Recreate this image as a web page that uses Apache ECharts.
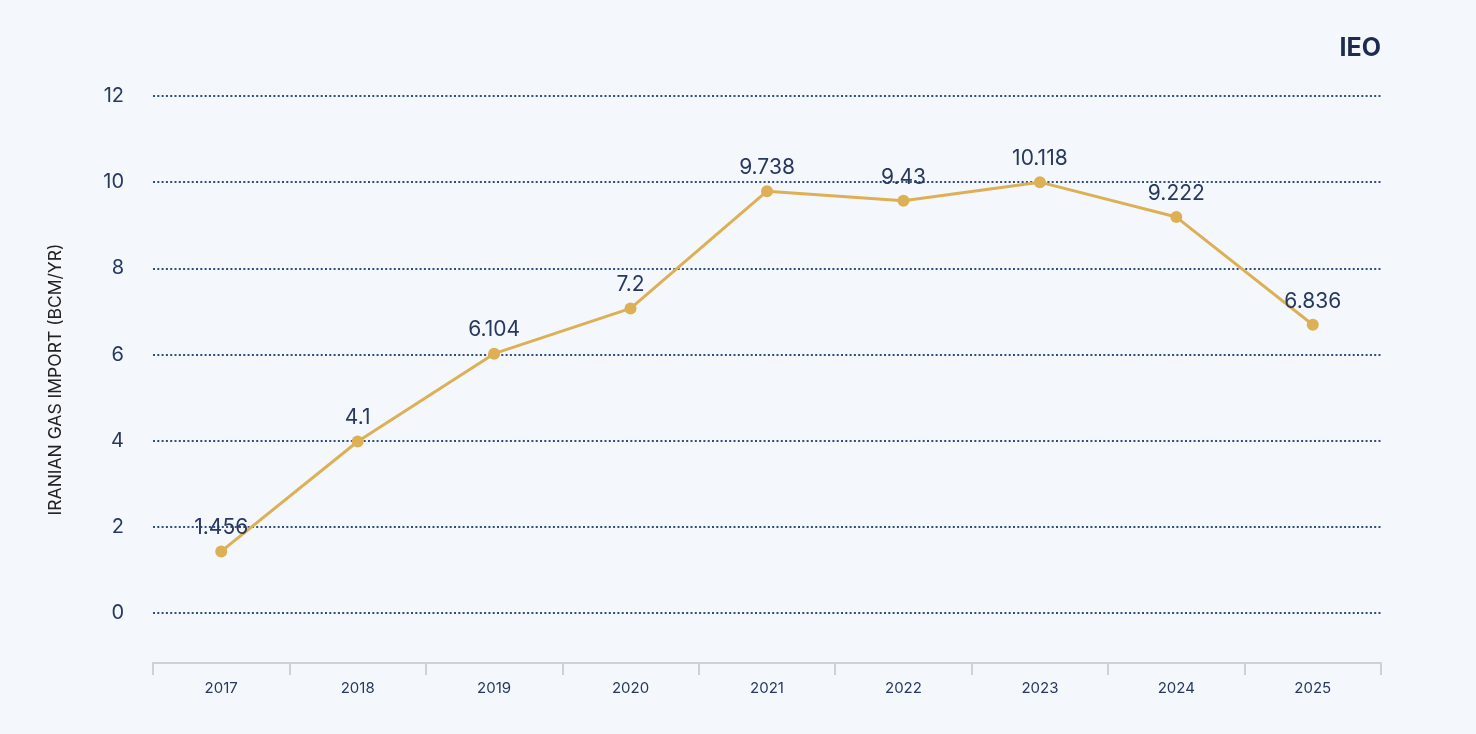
<!DOCTYPE html>
<html lang="en">
<head>
    <meta charset="UTF-8">
    <title>Iranian gas import</title>
    <script src="https://cdn.jsdelivr.net/npm/echarts@6/dist/echarts.min.js"></script>
    <style>
        html, body { margin: 0; padding: 0; background: #f4f7fc; }
        #main { width: 1476px; height: 734px; }
    </style>
</head>
<body>
    <div id="main"></div>
<script>
// years on the x axis
var years = ['2017', '2018', '2019', '2020', '2021', '2022', '2023', '2024', '2025'];
// plotted values (bcm/yr)
var importValues = [1.43, 3.98, 6.02, 7.07, 9.79, 9.57, 10.0, 9.19, 6.69];
// the numbers printed above each point
var pointLabels = ['1.456', '4.1', '6.104', '7.2', '9.738', '9.43', '10.118', '9.222', '6.836'];

var navy = '#27395e';
var gold = '#ddb056';

var myChart = echarts.init(document.getElementById('main'), null, {renderer: 'canvas'});

var option = {
    backgroundColor: '#f4f7fc',
    textStyle: {
        fontFamily: 'Inter, "Noto Sans", sans-serif'
    },
    title: {
        text: 'IEO',
        right: 90,
        top: 31,
        textStyle: {
            color: '#1c2b4f',
            fontSize: 25,
            fontWeight: 'bold'
        }
    },
    grid: {
        left: 153,
        right: 95,
        top: 96,
        bottom: 121  // value 0 sits at y=613
    },
    xAxis: {
        type: 'category',
        data: years,
        offset: 50,  // axis line drawn below the 0 line
        axisLine: {
            onZero: false,
            lineStyle: { color: '#cdd1d8', width: 2 }
        },
        axisTick: {
            show: true,
            alignWithLabel: false,
            interval: 0,
            length: 12,
            lineStyle: { color: '#cdd1d8', width: 2 }
        },
        axisLabel: {
            color: navy,
            fontSize: 15,
            margin: 18
        }
    },
    yAxis: {
        type: 'value',
        min: 0,
        max: 12,
        interval: 2,
        name: 'IRANIAN GAS IMPORT (BCM/YR)',
        nameLocation: 'middle',
        nameGap: 88,
        nameTextStyle: {
            color: '#222222',
            fontSize: 17.5,
            padding: [0, 50, 0, 0]
        },
        axisLine: { show: false },
        axisTick: { show: false },
        axisLabel: {
            color: navy,
            fontSize: 20,
            margin: 29
        },
        splitLine: {
            lineStyle: {
                color: '#2f4f80',
                width: 2,
                type: [2, 2.3]
            }
        }
    },
    series: [
        {
            name: 'Iranian gas import',
            type: 'line',
            data: importValues,
            symbol: 'circle',
            symbolSize: 12,
            itemStyle: { color: gold },
            lineStyle: { color: gold, width: 3 },
            label: {
                show: true,
                position: 'top',
                distance: 7,
                color: navy,
                fontSize: 21,
                formatter: function (p) {
                    return pointLabels[p.dataIndex];
                }
            },
            animation: false
        }
    ]
};
myChart.setOption(option);
</script>
</body>
</html>
